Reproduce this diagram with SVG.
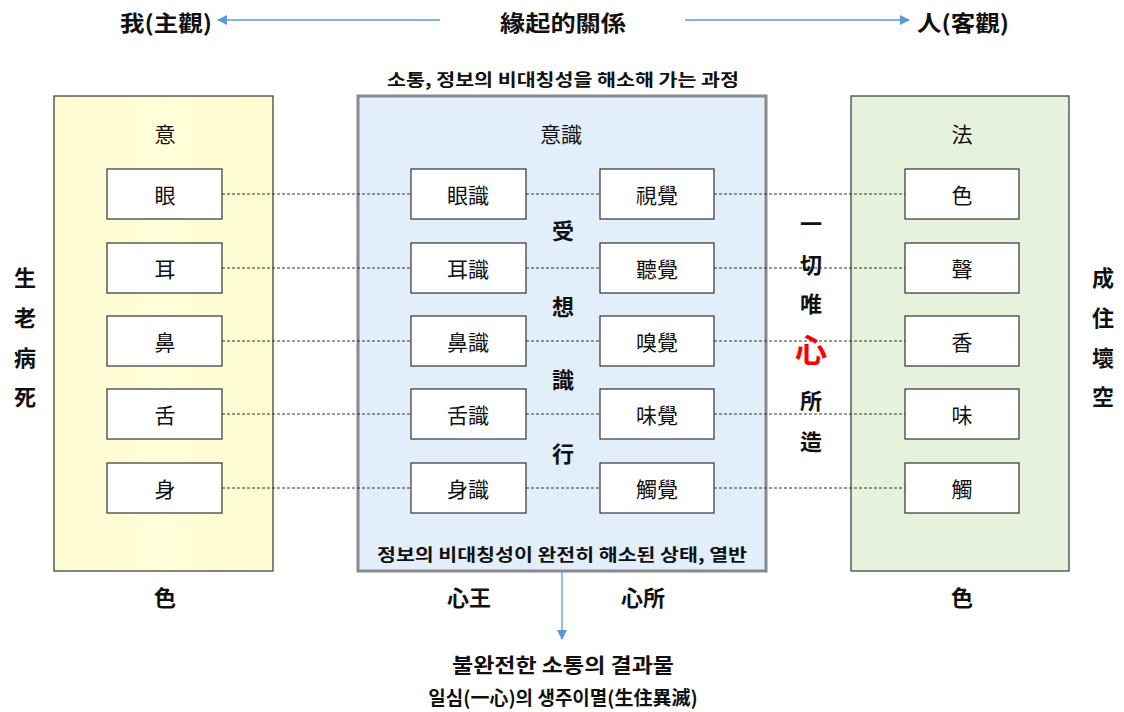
<svg xmlns="http://www.w3.org/2000/svg" width="1124" height="712" viewBox="0 0 1124 712">
<defs>
<style>
text{font-family:"Noto Sans CJK KR","Noto Sans CJK SC",sans-serif;text-anchor:middle;dominant-baseline:central;fill:#111}
.b{font-weight:bold}
.box{fill:#fff;stroke:#333;stroke-width:1.2}
.lbl{font-size:21px}
.big{font-size:22px;font-weight:bold}
.dash{stroke:#333;stroke-width:1;stroke-dasharray:3 2;fill:none}
.arr{stroke:#5b9bd5;stroke-width:1.3;fill:none}
</style>
<marker id="ah" markerWidth="10" markerHeight="10" refX="9" refY="5" orient="auto" markerUnits="userSpaceOnUse">
<path d="M0,0 L10,5 L0,10 Z" fill="#5b9bd5"/>
</marker>
<linearGradient id="gy" x1="0" y1="0" x2="1" y2="0"><stop offset="0" stop-color="#fdfbd2"/><stop offset="0.5" stop-color="#fffed8"/><stop offset="1" stop-color="#fdfbcf"/></linearGradient>
</defs>
<rect width="1124" height="712" fill="#fff"/>

<g id="top">
<text x="166" y="21" class="big" textLength="92" lengthAdjust="spacingAndGlyphs">我(主觀)</text>
<text x="563" y="21" class="big" textLength="126" lengthAdjust="spacingAndGlyphs">緣起的關係</text>
<text x="963" y="21" class="big" textLength="92" lengthAdjust="spacingAndGlyphs">人(客觀)</text>
</g>

<g id="subtitle"><text x="563" y="78" font-size="17" class="b" textLength="352" lengthAdjust="spacingAndGlyphs">소통, 정보의 비대칭성을 해소해 가는 과정</text></g>

<g id="leftPanel">
<rect x="54" y="96" width="219" height="475" fill="url(#gy)" stroke="#444" stroke-width="1.3"/>
<text x="165" y="133" class="lbl">意</text>
</g>
<g id="centerPanel">
<rect x="358" y="96" width="408" height="475" fill="#e2eef9" stroke="#8a8a8a" stroke-width="3"/>
<text x="561" y="133" class="lbl">意識</text>
<text x="562" y="553" font-size="17" class="b" textLength="370" lengthAdjust="spacingAndGlyphs">정보의 비대칭성이 완전히 해소된 상태, 열반</text>
</g>
<g id="rightPanel">
<rect x="851" y="96" width="218" height="475" fill="#e6f2dc" stroke="#444" stroke-width="1.3"/>
<text x="962" y="133" class="lbl">法</text>
</g>

<g id="connectors">
<line class="dash" x1="222" y1="194" x2="411" y2="194"/>
<line class="dash" x1="526" y1="194" x2="600" y2="194"/>
<line class="dash" x1="714" y1="194" x2="905" y2="194"/>
<line class="dash" x1="222" y1="268" x2="411" y2="268"/>
<line class="dash" x1="526" y1="268" x2="600" y2="268"/>
<line class="dash" x1="714" y1="268" x2="905" y2="268"/>
<line class="dash" x1="222" y1="341" x2="411" y2="341"/>
<line class="dash" x1="526" y1="341" x2="600" y2="341"/>
<line class="dash" x1="714" y1="341" x2="905" y2="341"/>
<line class="dash" x1="222" y1="414" x2="411" y2="414"/>
<line class="dash" x1="526" y1="414" x2="600" y2="414"/>
<line class="dash" x1="714" y1="414" x2="905" y2="414"/>
<line class="dash" x1="222" y1="488" x2="411" y2="488"/>
<line class="dash" x1="526" y1="488" x2="600" y2="488"/>
<line class="dash" x1="714" y1="488" x2="905" y2="488"/>
<line class="arr" x1="440" y1="20" x2="218" y2="20" marker-end="url(#ah)"/>
<line class="arr" x1="685" y1="20" x2="909" y2="20" marker-end="url(#ah)"/>
<line class="arr" x1="562" y1="572" x2="562" y2="639" marker-end="url(#ah)"/>
</g>

<g id="n-eye"><rect class="box" x="107" y="169" width="115" height="50"/><text x="165" y="194" class="lbl">眼</text></g>
<g id="n-ear"><rect class="box" x="107" y="243" width="115" height="50"/><text x="165" y="268" class="lbl">耳</text></g>
<g id="n-nose"><rect class="box" x="107" y="316" width="115" height="50"/><text x="165" y="341" class="lbl">鼻</text></g>
<g id="n-tongue"><rect class="box" x="107" y="389" width="115" height="50"/><text x="165" y="414" class="lbl">舌</text></g>
<g id="n-body"><rect class="box" x="107" y="463" width="115" height="50"/><text x="165" y="488" class="lbl">身</text></g>

<g id="n-eyec"><rect class="box" x="411" y="169" width="115" height="50"/><text x="468" y="194" class="lbl">眼識</text></g>
<g id="n-earc"><rect class="box" x="411" y="243" width="115" height="50"/><text x="468" y="268" class="lbl">耳識</text></g>
<g id="n-nosec"><rect class="box" x="411" y="316" width="115" height="50"/><text x="468" y="341" class="lbl">鼻識</text></g>
<g id="n-tonguec"><rect class="box" x="411" y="389" width="115" height="50"/><text x="468" y="414" class="lbl">舌識</text></g>
<g id="n-bodyc"><rect class="box" x="411" y="463" width="115" height="50"/><text x="468" y="488" class="lbl">身識</text></g>

<g id="n-sight"><rect class="box" x="600" y="169" width="114" height="50"/><text x="657" y="194" class="lbl">視覺</text></g>
<g id="n-hear"><rect class="box" x="600" y="243" width="114" height="50"/><text x="657" y="268" class="lbl">聽覺</text></g>
<g id="n-smell"><rect class="box" x="600" y="316" width="114" height="50"/><text x="657" y="341" class="lbl">嗅覺</text></g>
<g id="n-taste"><rect class="box" x="600" y="389" width="114" height="50"/><text x="657" y="414" class="lbl">味覺</text></g>
<g id="n-touch"><rect class="box" x="600" y="463" width="114" height="50"/><text x="657" y="488" class="lbl">觸覺</text></g>

<g id="n-color"><rect class="box" x="905" y="169" width="114" height="50"/><text x="962" y="194" class="lbl">色</text></g>
<g id="n-sound"><rect class="box" x="905" y="243" width="114" height="50"/><text x="962" y="268" class="lbl">聲</text></g>
<g id="n-scent"><rect class="box" x="905" y="316" width="114" height="50"/><text x="962" y="341" class="lbl">香</text></g>
<g id="n-flavor"><rect class="box" x="905" y="389" width="114" height="50"/><text x="962" y="414" class="lbl">味</text></g>
<g id="n-feel"><rect class="box" x="905" y="463" width="114" height="50"/><text x="962" y="488" class="lbl">觸</text></g>

<g id="skandha">
<text x="563" y="229" class="big">受</text>
<text x="563" y="305" class="big">想</text>
<text x="563" y="378" class="big">識</text>
<text x="563" y="452" class="big">行</text>
</g>

<g id="mind">
<text x="811" y="222" class="big">一</text>
<text x="811" y="263" class="big">切</text>
<text x="811" y="302" class="big">唯</text>
<text x="811" y="348" font-size="32" font-weight="bold" style="fill:#f00">心</text>
<text x="811" y="399" class="big">所</text>
<text x="811" y="440" class="big">造</text>
</g>

<g id="life">
<text x="25" y="276" class="big">生</text>
<text x="25" y="316" class="big">老</text>
<text x="25" y="356" class="big">病</text>
<text x="25" y="395" class="big">死</text>
</g>
<g id="cosmos">
<text x="1103" y="276" class="big">成</text>
<text x="1103" y="316" class="big">住</text>
<text x="1103" y="356" class="big">壞</text>
<text x="1103" y="395" class="big">空</text>
</g>

<g id="bottomLabels">
<text x="165" y="596" class="big">色</text>
<text x="469" y="596" class="big">心王</text>
<text x="643" y="596" class="big">心所</text>
<text x="962" y="596" class="big">色</text>
</g>

<g id="result">
<text x="563" y="664" font-size="20" class="b" textLength="222" lengthAdjust="spacingAndGlyphs">불완전한 소통의 결과물</text>
<text x="563" y="696" font-size="19" class="b">일심(一心)의 생주이멸(生住異滅)</text>
</g>
</svg>
